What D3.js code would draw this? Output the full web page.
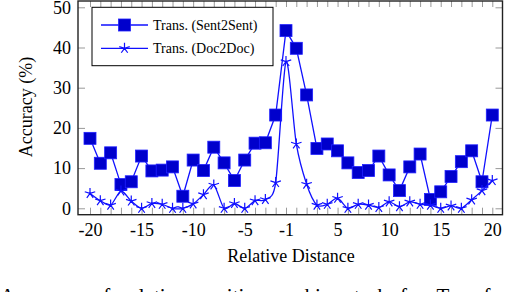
<!DOCTYPE html>
<html>
<head>
<meta charset="utf-8">
<script src="https://cdn.jsdelivr.net/npm/d3@7"></script>
<style>
  html, body { margin: 0; padding: 0; background: #fff; overflow: hidden; }
  svg { display: block; font-family: "Liberation Serif", "Times New Roman", serif; }
</style>
</head>
<body>
<svg id="chart" width="506" height="292"></svg>
<script>
// distances relatives (pas de 0)
const distances = [-20, -19, -18, -17, -16, -15, -14, -13, -12, -11, -10, -9, -8, -7, -6, -5, -4, -3, -2, -1,
                   1, 2, 3, 4, 5, 6, 7, 8, 9, 10, 11, 12, 13, 14, 15, 16, 17, 18, 19, 20];
const sent2sent = [17.4, 11.2, 13.8, 5.9, 6.6, 13.0, 9.3, 9.5, 10.3, 3.0,
                   12.0, 9.4, 15.2, 11.3, 6.9, 12.0, 16.2, 16.3, 23.2, 44.2,
                   39.8, 28.2, 14.9, 16.0, 14.3, 11.3, 8.9, 9.4, 13.0, 8.3,
                   4.4, 10.3, 13.5, 2.2, 4.1, 7.9, 11.6, 14.3, 6.6, 23.2];
const doc2doc = [3.7, 1.9, 0.8, 4.3, 1.8, 0.0, 1.2, 1.0, 0.0, 0.0,
                 1.1, 3.4, 5.8, 0.0, 1.2, 0.0, 1.9, 2.2, 6.4, 36.5,
                 16.0, 6.0, 0.8, 1.0, 2.5, 0.0, 1.0, 0.8, 0.2, 1.6,
                 0.4, 1.6, 1.0, 0.8, 0.0, 0.6, 0.0, 2.1, 4.4, 6.9];
const xLabels = [-20, -15, -10, -5, -1, 5, 10, 15, 20];
const yTicks = [0, 10, 20, 30, 40, 50];
const seriesNames = ["Trans. (Sent2Sent)", "Trans. (Doc2Doc)"];

const svg = d3.select("#chart");

// cadre du graphique
const frame = { left: 78, right: 502.5, top: 1, bottom: 214.7 };

const x = d3.scalePoint()
    .domain(distances)
    .range([90, 492.3])
    .padding(0);

const y = d3.scaleLinear()
    .domain([0, 50])
    .range([208.3, 7.3]);

const tickColor = "#999";

// axe du bas
const xAxis = svg.append("g")
    .attr("transform", `translate(0,${frame.bottom})`)
    .call(d3.axisBottom(x)
        .tickValues(distances)
        .tickSize(-7)
        .tickPadding(9)
        .tickFormat(d => xLabels.includes(d) ? String(d) : ""));
xAxis.select(".domain").remove();
xAxis.selectAll("line").attr("stroke", tickColor);
xAxis.selectAll("text").attr("font-size", 18).attr("fill", "#000")
    .attr("font-family", "Liberation Serif");

// axe du haut (ticks seulement)
const xTop = svg.append("g")
    .attr("transform", `translate(0,${frame.top})`)
    .call(d3.axisTop(x).tickValues(distances).tickSize(-6).tickFormat(""));
xTop.select(".domain").remove();
xTop.selectAll("line").attr("stroke", tickColor);

// axe gauche
const yAxis = svg.append("g")
    .attr("transform", `translate(${frame.left},0)`)
    .call(d3.axisLeft(y).tickValues(yTicks).tickSize(-7).tickPadding(7).tickFormat(d => String(d)));
yAxis.select(".domain").remove();
yAxis.selectAll("line").attr("stroke", tickColor);
yAxis.selectAll("text").attr("font-size", 18).attr("fill", "#000")
    .attr("font-family", "Liberation Serif");

// axe droit
const yRight = svg.append("g")
    .attr("transform", `translate(${frame.right},0)`)
    .call(d3.axisRight(y).tickValues(yTicks).tickSize(-7).tickFormat(""));
yRight.select(".domain").remove();
yRight.selectAll("line").attr("stroke", tickColor);

svg.append("rect")
    .attr("x", frame.left).attr("y", frame.top)
    .attr("width", frame.right - frame.left)
    .attr("height", frame.bottom - frame.top)
    .attr("fill", "none")
    .attr("stroke", "#222")
    .attr("stroke-width", 1.4);

// séries
const lineSent = d3.line()
    .x((d, i) => x(distances[i]))
    .y(d => y(d));

const lineDoc = d3.line()
    .x((d, i) => x(distances[i]))
    .y(d => y(d))
    .curve(d3.curveCardinal.tension(0.2));

svg.append("path")
    .datum(sent2sent)
    .attr("d", lineSent)
    .attr("fill", "none")
    .attr("stroke", "#1010ff")
    .attr("stroke-width", 1.3);

svg.selectAll(".sq")
    .data(sent2sent)
    .enter().append("rect")
    .attr("class", "sq")
    .attr("x", (d, i) => x(distances[i]) - 6)
    .attr("y", d => y(d) - 6)
    .attr("width", 12)
    .attr("height", 12)
    .attr("fill", "#0000cc")
    .attr("stroke", "#2020ff")
    .attr("stroke-width", 0.8);

svg.append("path")
    .datum(doc2doc)
    .attr("d", lineDoc)
    .attr("fill", "none")
    .attr("stroke", "#1010ff")
    .attr("stroke-width", 1.3);

// marqueur étoile (5 branches)
function starPath(r) {
    let p = "";
    for (let k = 0; k < 5; k++) {
        const a = -Math.PI / 2 + k * 2 * Math.PI / 5;
        p += `M0,0L${(r * Math.cos(a)).toFixed(2)},${(r * Math.sin(a)).toFixed(2)}`;
    }
    return p;
}

svg.selectAll(".star")
    .data(doc2doc)
    .enter().append("path")
    .attr("class", "star")
    .attr("transform", (d, i) => `translate(${x(distances[i])},${y(d)})`)
    .attr("d", starPath(5.5))
    .attr("fill", "none")
    .attr("stroke", "#1010ff")
    .attr("stroke-width", 1.2);

// légende
const legend = svg.append("g");
legend.append("rect")
    .attr("x", 92).attr("y", 7.3)
    .attr("width", 181).attr("height", 58.4)
    .attr("fill", "#fff")
    .attr("stroke", "#000")
    .attr("stroke-width", 1);

const legY = [25, 48.3];
legY.forEach((ly, i) => {
    legend.append("line")
        .attr("x1", 101).attr("x2", 148)
        .attr("y1", ly).attr("y2", ly)
        .attr("stroke", "#1010ff")
        .attr("stroke-width", 1.3);
    if (i === 0) {
        legend.append("rect")
            .attr("x", 124.5 - 6).attr("y", ly - 6)
            .attr("width", 12).attr("height", 12)
            .attr("fill", "#0000cc")
            .attr("stroke", "#2020ff")
            .attr("stroke-width", 0.8);
    } else {
        legend.append("path")
            .attr("transform", `translate(124.5,${ly})`)
            .attr("d", starPath(5.5))
            .attr("fill", "none")
            .attr("stroke", "#1010ff")
            .attr("stroke-width", 1.2);
    }
    legend.append("text")
        .attr("x", 153).attr("y", ly)
        .attr("dy", "0.35em")
        .attr("font-size", 14)
        .text(seriesNames[i]);
});

// titres des axes
svg.append("text")
    .attr("x", 291).attr("y", 262)
    .attr("text-anchor", "middle")
    .attr("font-size", 18)
    .text("Relative Distance");

svg.append("text")
    .attr("transform", "translate(32,107) rotate(-90)")
    .attr("text-anchor", "middle")
    .attr("font-size", 18)
    .text("Accuracy (%)");

// légende de la figure (coupée en bas)
svg.append("text")
    .attr("x", 0).attr("y", 303)
    .attr("font-size", 21)
    .attr("word-spacing", 7)
    .text("Accuracy of relative position ranking task for Transformer models.");
</script>
</body>
</html>
